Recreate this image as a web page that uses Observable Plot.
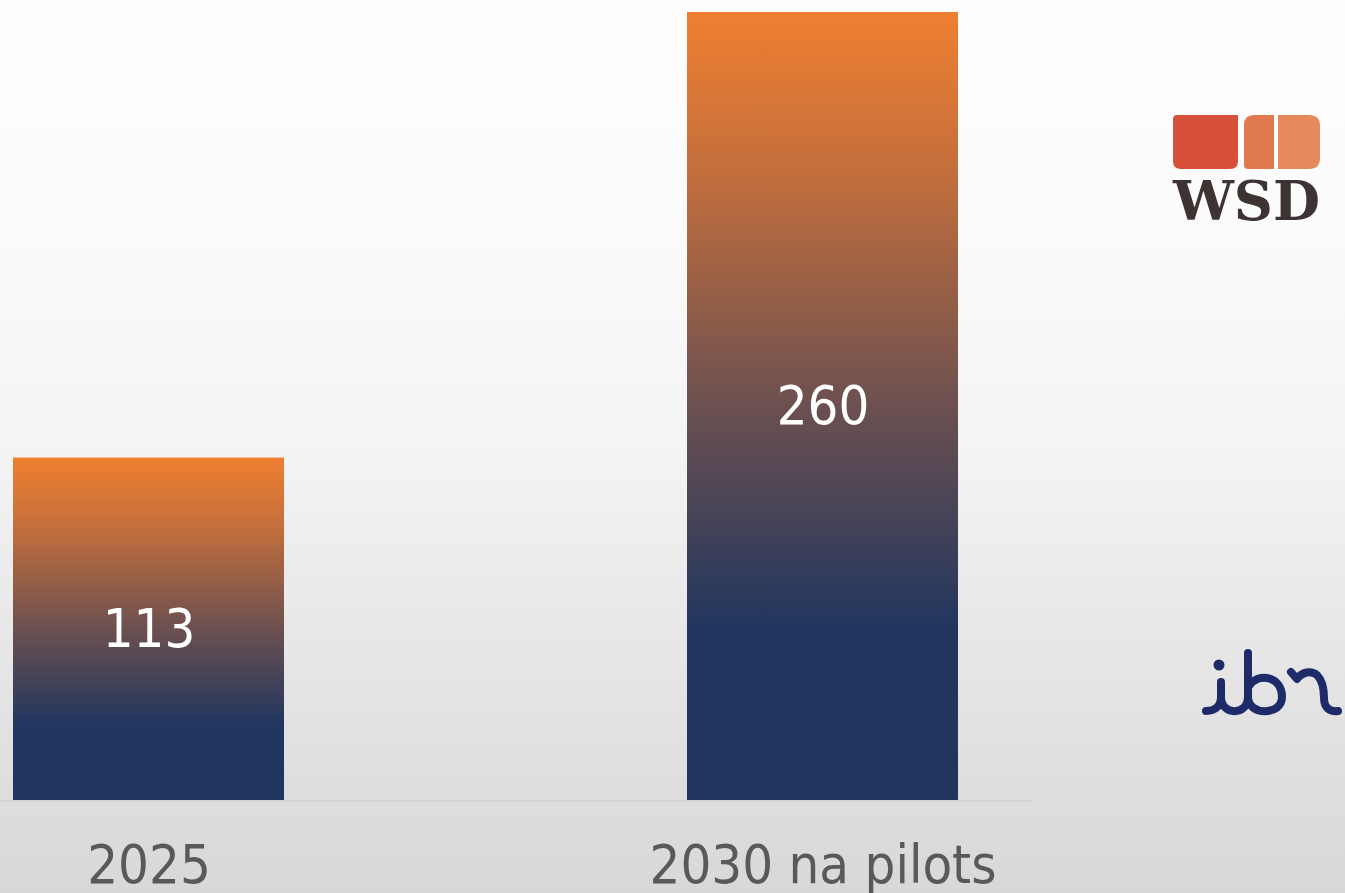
<!DOCTYPE html>
<html>
<head>
<meta charset="utf-8">
<script src="https://cdn.jsdelivr.net/npm/d3@7"></script>
<script src="https://cdn.jsdelivr.net/npm/@observablehq/plot@0.6"></script>
<style>
  html, body { margin: 0; padding: 0; }
  body {
    width: 1345px; height: 893px; overflow: hidden; position: relative;
    background: linear-gradient(to bottom, #fefefe 0%, #fbfbfb 25%, #f4f4f4 50%, #e8e8e8 70%, #dddddd 90%, #d8d8d8 100%);
  }
  #chart { position: absolute; left: 0; top: 0; }
  #baseline { position: absolute; left: 0; top: 800px; width: 1033px; height: 2px; background: #d4d4d4; }
  #logos { position: absolute; left: 0; top: 0; pointer-events: none; }
</style>
</head>
<body>
<div id="baseline"></div>
<div id="chart"></div>
<svg id="logos" width="1345" height="893" xmlns="http://www.w3.org/2000/svg">
  <!-- WSD logo -->
  <path d="M1177,115 H1238 V161 Q1238,169 1230,169 H1181 Q1173,169 1173,161 V119 Q1173,115 1177,115 Z" fill="#d6503a"/>
  <path d="M1254,115 H1274 V169 H1248 Q1244,169 1244,165 V125 Q1244,115 1254,115 Z" fill="#e07a4e"/>
  <path d="M1278,115 H1309 Q1320,115 1320,126 V158 Q1320,169 1309,169 H1278 Z" fill="#e48a5c"/>
  <text x="1246.5" y="220" text-anchor="middle" font-family="'DejaVu Serif', serif" font-weight="bold" font-size="54" fill="#3d3332" textLength="147" lengthAdjust="spacingAndGlyphs">WSD</text>
  <!-- ibn logo -->
  <g fill="none" stroke="#1e2b68" stroke-width="8" stroke-linecap="round" stroke-linejoin="round">
    <path d="M1206,711 C1215,711 1221,706 1221,697 L1221,682"/>
    <path d="M1221,697 C1221,716 1248,716 1248,697 L1248,653"/>
    <path d="M1248,697 C1248,716 1282,716 1282,697 C1282,676 1258,672 1249,686"/>
    <path d="M1291,672 L1297,679 C1302,672 1311,670 1317,675 C1322,680 1324,688 1324,698 C1324,708 1330,712 1338,711"/>
  </g>
  <circle cx="1219" cy="665" r="5.5" fill="#1e2b68"/>
</svg>
<script>
const categories = ["2025", "2030 na pilots"];
const values = [113, 260];
const valueLabels = ["113", "260"];

const data = categories.map((c, i) => ({cat: c, value: values[i], label: valueLabels[i]}));

const font = "'DejaVu Sans Condensed', 'DejaVu Sans', sans-serif";

function gradientDefs() {
  const ns = "http://www.w3.org/2000/svg";
  const defs = document.createElementNS(ns, "defs");
  const g = document.createElementNS(ns, "linearGradient");
  g.setAttribute("id", "barGrad");
  g.setAttribute("x1", "0"); g.setAttribute("y1", "0");
  g.setAttribute("x2", "0"); g.setAttribute("y2", "1");
  [["0", "#ef7f31"], ["0.2", "#c46f3c"], ["0.5", "#6c5050"], ["0.78", "#21365f"], ["1", "#21365f"]].forEach(([o, c]) => {
    const s = document.createElementNS(ns, "stop");
    s.setAttribute("offset", o);
    s.setAttribute("stop-color", c);
    g.appendChild(s);
  });
  defs.appendChild(g);
  return defs;
}

const chart = Plot.plot({
  width: 1345,
  height: 893,
  marginTop: 12,
  marginBottom: 93,
  marginLeft: 12,
  marginRight: 387,
  style: {background: "transparent", fontFamily: font, fontStretch: "condensed"},
  x: {domain: categories, paddingInner: 0.5985, paddingOuter: 0, label: null},
  y: {domain: [0, 260], axis: null},
  marks: [
    gradientDefs,
    Plot.barY(data, {x: "cat", y: "value", fill: "url(#barGrad)"}),
    Plot.text(data, {x: "cat", y: d => d.value / 2, text: "label", fill: "white", fontSize: 54, fontFamily: font}),
    Plot.axisX({tickSize: 0, tickPadding: 44, fontSize: 54, fill: "#595959", fontFamily: font})
  ]
});
document.getElementById("chart").appendChild(chart);
</script>
</body>
</html>
